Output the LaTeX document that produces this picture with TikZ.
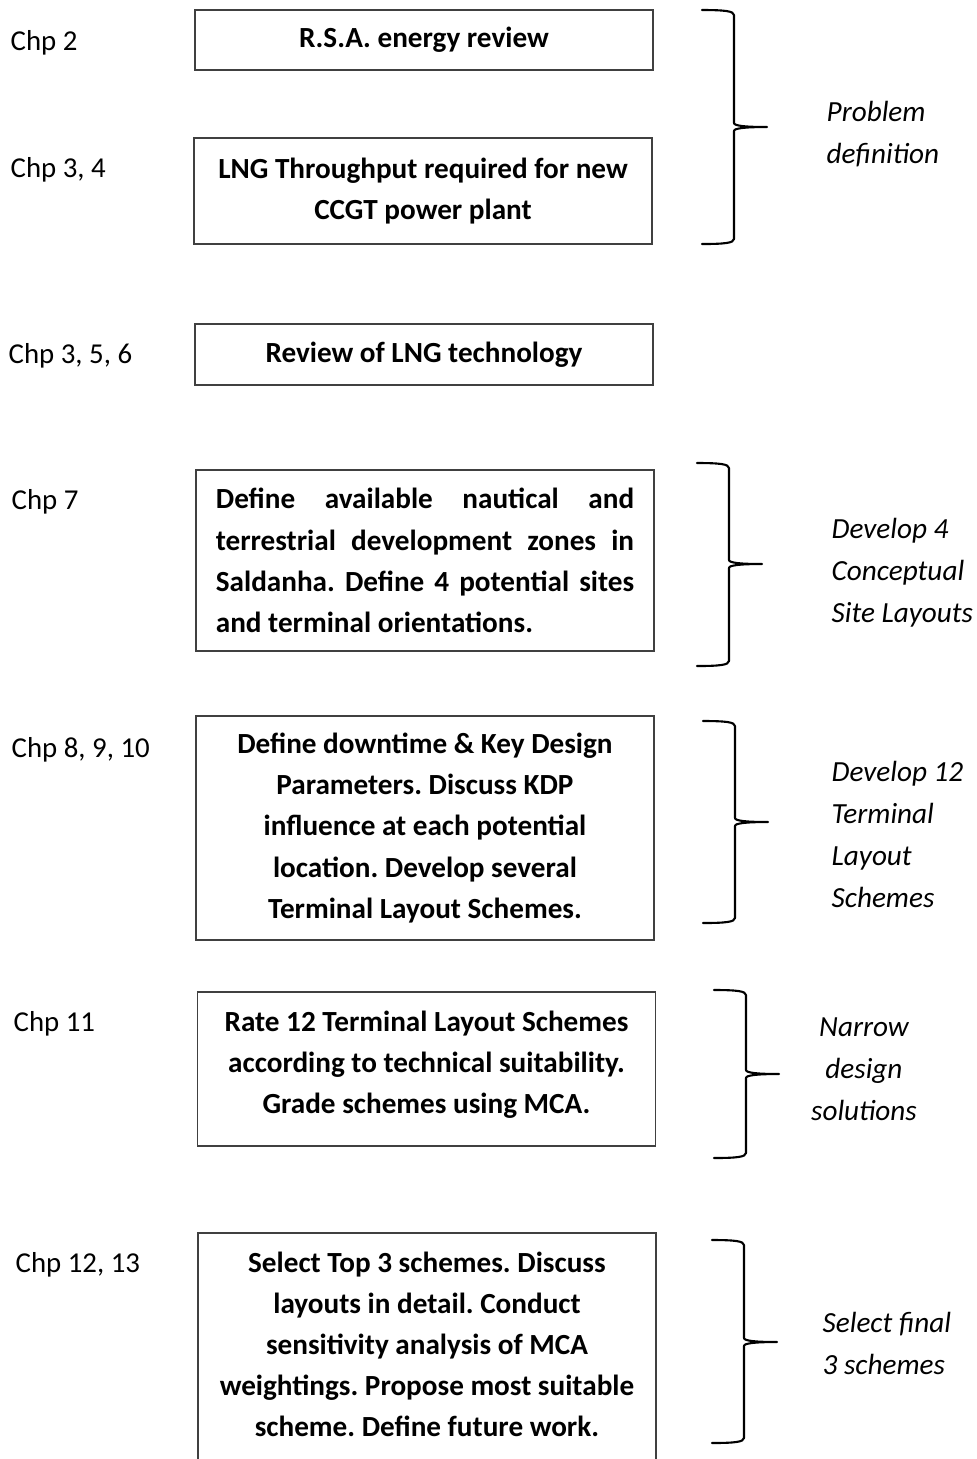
\documentclass[tikz,border=0pt]{standalone}
\usepackage{fontspec}
\setmainfont{Carlito}

\tikzset{
  stepbox/.style={draw=black!75, line width=0.4pt, font=\fontsize{8.3}{11.7}\selectfont\bfseries\frenchspacing,
    text width=4.18cm, minimum width=4.58cm, inner xsep=0.2cm, inner ysep=0pt, align=flush center},
  chp/.style={anchor=base west, inner sep=0pt},
  stage/.style={font=\fontsize{8.3}{11.95}\selectfont\itshape, inner sep=0pt, align=flush left, anchor=west},
  sidebrace/.style={line width=0.6pt, line cap=round, line join=round},
}

\begin{document}
\begin{tikzpicture}[x=0.01cm, y=-0.01cm, font=\fontsize{8.2}{11.7}\selectfont\frenchspacing]
\useasboundingbox (0,0) rectangle (977,1459);

% work boxes
\node[stepbox, minimum height=0.60cm] (review) at (424,40) {R.S.A. energy review};
\node[stepbox, minimum height=1.06cm] (lng) at (423,191) {LNG Throughput required for new\\CCGT power plant};
\node[stepbox, minimum height=0.61cm] (tech) at (424,354.5) {Review of LNG technology};
\node[stepbox, minimum height=1.81cm, align=justify] (zones) at (425,560.5)
  {Define available nautical and\linebreak terrestrial development zones in\linebreak
   Saldanha. Define 4 potential sites\linebreak and terminal orientations.};
\node[stepbox, minimum height=2.24cm] (kdp) at (425,828)
  {Define downtime \& Key Design\\Parameters. Discuss KDP\\influence at each potential\\location. Develop several\\Terminal Layout Schemes.};
\node[stepbox, minimum height=1.54cm, text depth=0.96cm] (rate) at (426.5,1069)
  {Rate 12 Terminal Layout Schemes\\according to technical suitability.\\Grade schemes using MCA.};
% last box runs past the bottom edge
\node[stepbox, minimum height=2.37cm, text depth=1.79cm] (final) at (427,1351.5)
  {Select Top 3 schemes. Discuss\\layouts in detail. Conduct\\sensitivity analysis of MCA\\weightings. Propose most suitable\\scheme. Define future work.};

% chapter references
\node[chp] (c1) at (10,50) {Chp 2};
\node[chp] (c2) at (10,177) {Chp 3, 4};
\node[chp] (c3) at (8,363) {Chp 3, 5, 6};
\node[chp] (c4) at (11,509) {Chp 7};
\node[chp] (c5) at (11,757) {Chp 8, 9, 10};
\node[chp] (c6) at (13,1031) {Chp 11};
\node[chp] (c7) at (15,1272) {Chp 12, 13};

% braces: left end x / top / tip / bottom
\foreach \bx/\bt/\bm/\bb in {702/10/127/244, 697/463/564/666, 703/721/822/923, 714/990/1074/1158, 712/1240/1342/1443}
  \draw[sidebrace] (\bx,\bt) .. controls (\bx+22,\bt) and (\bx+32,\bt+1) .. (\bx+32,\bt+5)
    -- (\bx+32,\bm-4) .. controls (\bx+32,\bm-1) and (\bx+45,\bm) .. (\bx+65,\bm)
    .. controls (\bx+45,\bm) and (\bx+32,\bm+1) .. (\bx+32,\bm+4)
    -- (\bx+32,\bb-5) .. controls (\bx+32,\bb-1) and (\bx+22,\bb) .. (\bx,\bb);

% stage names
\node[stage] (s1) at (826,134) {Problem\\definition};
\node[stage] (s2) at (831,573) {Develop 4\\Conceptual\\Site Layouts};
\node[stage] (s3) at (831,834) {Develop 12\\Terminal\\Layout\\Schemes};
\node[stage, align=flush center, anchor=center] (s4) at (864,1069) {Narrow\\design\\solutions};
\node[stage] (s5) at (822,1343.5) {Select final\\3 schemes};
\end{tikzpicture}
\end{document}
